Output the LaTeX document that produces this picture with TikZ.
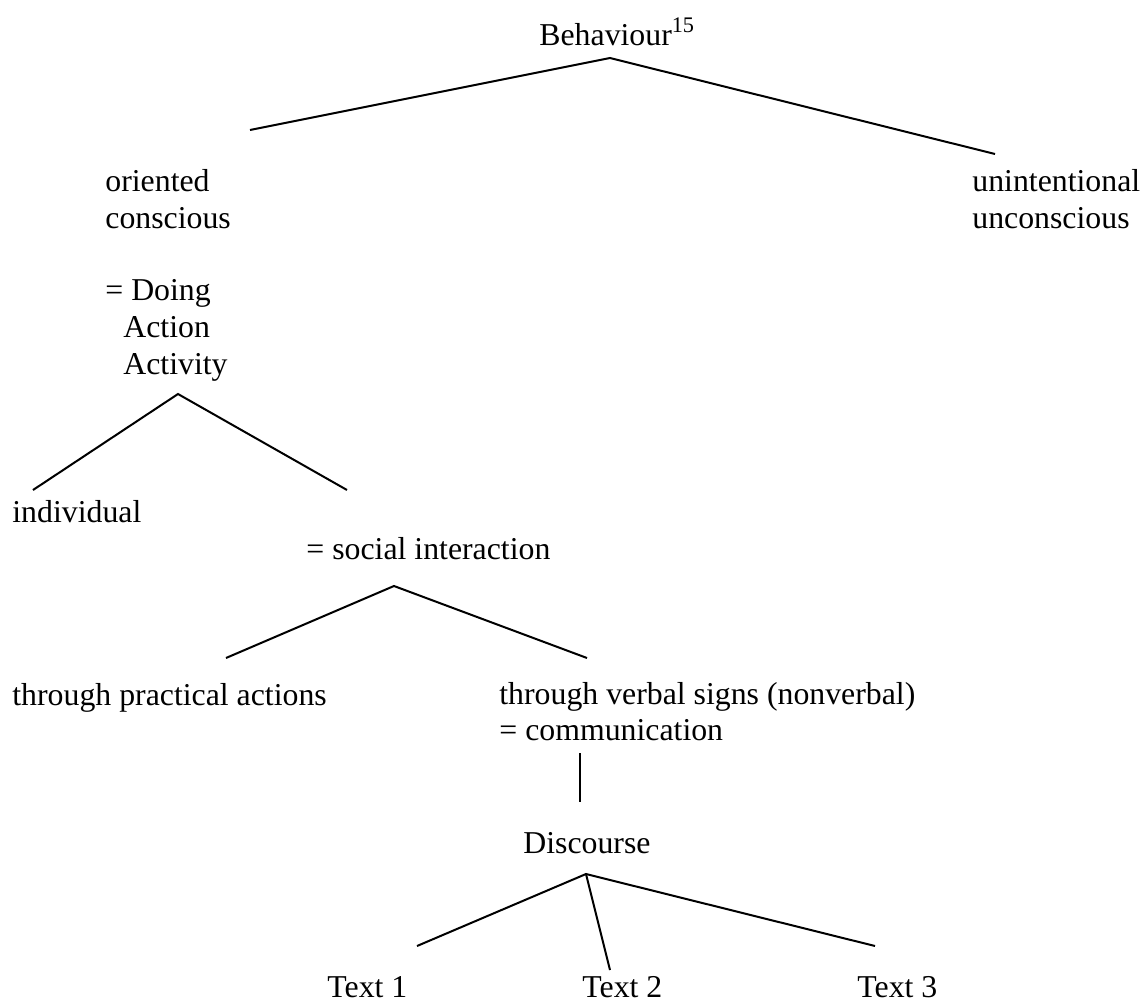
\documentclass[tikz,border=0pt]{standalone}
\usepackage{fontspec}
\setmainfont{Liberation Serif}
\usepackage{tikz}

\begin{document}
\begin{tikzpicture}[x=0.5pt, y=-0.5pt,
        lbl/.style={anchor=base west, inner sep=0pt, font=\fontsize{15.9}{18}\selectfont},
        branch/.style={line width=1pt}]
        % Canvas - pixel grid, y runs downwards
        \useasboundingbox (0,0) rectangle (1141,1002);

        % Root
        \node[lbl] (behaviour) at (539,45) {Behaviour\textsuperscript{15}};
        \coordinate (behaviour-fork) at (610,58);
        \coordinate (oriented-top) at (250,130);
        \coordinate (unintent-top) at (995,154);
        \draw[branch] (oriented-top) -- (behaviour-fork) -- (unintent-top);

        % Level 1
        \node[lbl] (oriented) at (105,191) {oriented};
        \node[lbl] (conscious) at (105,228) {conscious};
        \node[lbl] (unintentional) at (972,191) {unintentional};
        \node[lbl] (unconscious) at (972,228) {unconscious};

        \node[lbl] (doing) at (105,300) {= Doing};
        \node[lbl] (action) at (123,337) {Action};
        \node[lbl] (activity) at (123,374) {Activity};

        % Doing splits
        \coordinate (doing-fork) at (178,394);
        \coordinate (individual-top) at (33,490);
        \coordinate (social-top) at (347,490);
        \draw[branch] (individual-top) -- (doing-fork) -- (social-top);

        \node[lbl] (individual) at (12,522) {individual};
        \node[lbl] (social) at (306,559) {= social interaction};

        % Social interaction splits
        \coordinate (social-fork) at (394,586);
        \coordinate (practical-top) at (226,658);
        \coordinate (verbal-top) at (587,658);
        \draw[branch] (practical-top) -- (social-fork) -- (verbal-top);

        \node[lbl] (practical) at (12,705) {through practical actions};
        \node[lbl] (verbal) at (499,704) {through verbal signs (nonverbal)};
        \node[lbl] (communication) at (499,740) {= communication};

        % Communication -> Discourse
        \coordinate (comm-foot) at (580,753);
        \coordinate (discourse-top) at (580,802);
        \draw[branch] (comm-foot) -- (discourse-top);

        \node[lbl] (discourse) at (523,853) {Discourse};

        % Discourse splits into texts
        \coordinate (discourse-fork) at (586,874);
        \coordinate (text1-top) at (417,946);
        \coordinate (text2-top) at (610,970);
        \coordinate (text3-top) at (875,946);
        \draw[branch] (text1-top) -- (discourse-fork) -- (text3-top);
        \draw[branch] (discourse-fork) -- (text2-top);

        \node[lbl] (text1) at (327,997) {Text 1};
        \node[lbl] (text2) at (582,997) {Text 2};
        \node[lbl] (text3) at (857,997) {Text 3};
    \end{tikzpicture}
\end{document}
